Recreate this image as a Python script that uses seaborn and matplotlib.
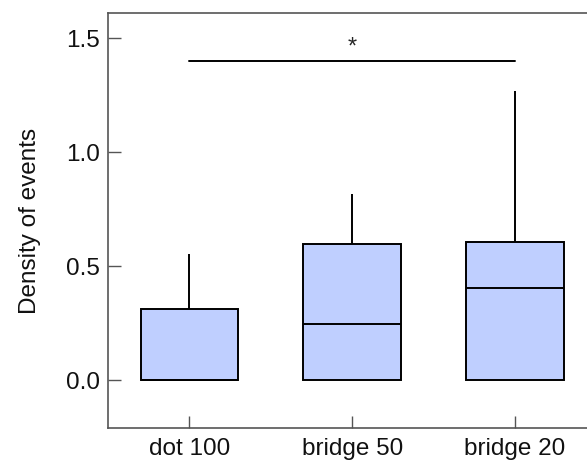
import numpy as np
import pandas as pd
import seaborn as sns
import matplotlib.pyplot as plt

# values (per group)
groups = ["dot 100", "bridge 50", "bridge 20"]
q1 = [0.0, 0.0, 0.0]
median = [0.0, 0.247, 0.404]
q3 = [0.310, 0.598, 0.606]
top = [0.553, 0.815, 1.269]

# significance bar between dot 100 and bridge 20
sig_pair = ("dot 100", "bridge 20")
sig_y = 1.40
sig_text = "*"

# five-number samples so the quartiles match the picture
rows = []
for g, a, m, b, t in zip(groups, q1, median, q3, top):
    for v in [a, a, m, b, t]:
        rows.append({"group": g, "density": v})
df = pd.DataFrame(rows)

sns.set_style("white")
plt.rcParams["font.family"] = ["Liberation Sans", "DejaVu Sans"]

fig = plt.figure(figsize=(5.87, 4.63), dpi=100)
ax = fig.add_axes([0.184, 0.0756, 0.832, 0.8963])

sns.boxplot(data=df, x="group", y="density", order=groups, ax=ax,
            color="#BFCFFF", saturation=1, width=0.6, whis=(0, 100),
            showcaps=False, linewidth=1.4, linecolor="black",
            boxprops=dict(edgecolor="black"),
            medianprops=dict(color="black", linewidth=1.4),
            whiskerprops=dict(color="black", linewidth=1.4))

# significance line
x0, x1 = groups.index(sig_pair[0]), groups.index(sig_pair[1])
ax.plot([x0, x1], [sig_y, sig_y], color="black", lw=1.4)
ax.text((x0 + x1) / 2, sig_y + 0.01, sig_text, ha="center", va="bottom", fontsize=17)

ax.set_xlim(-0.5, 2.5)
ax.set_ylim(-0.21, 1.61)
ax.set_yticks([0.0, 0.5, 1.0, 1.5])
ax.set_yticklabels(["0.0", "0.5", "1.0", "1.5"])
ax.set_xlabel("")
ax.set_ylabel("Density of events", fontsize=17.5, labelpad=18, color="#111111")

for s in ax.spines.values():
    s.set_color("#555555")
    s.set_linewidth(1.2)
ax.tick_params(axis="both", direction="in", length=9, width=1, color="#555555",
               labelsize=17.5, labelcolor="#111111", bottom=True, left=True)
ax.tick_params(axis="x", pad=7)
ax.tick_params(axis="y", pad=6)

fig.savefig("out.png", dpi=100)
